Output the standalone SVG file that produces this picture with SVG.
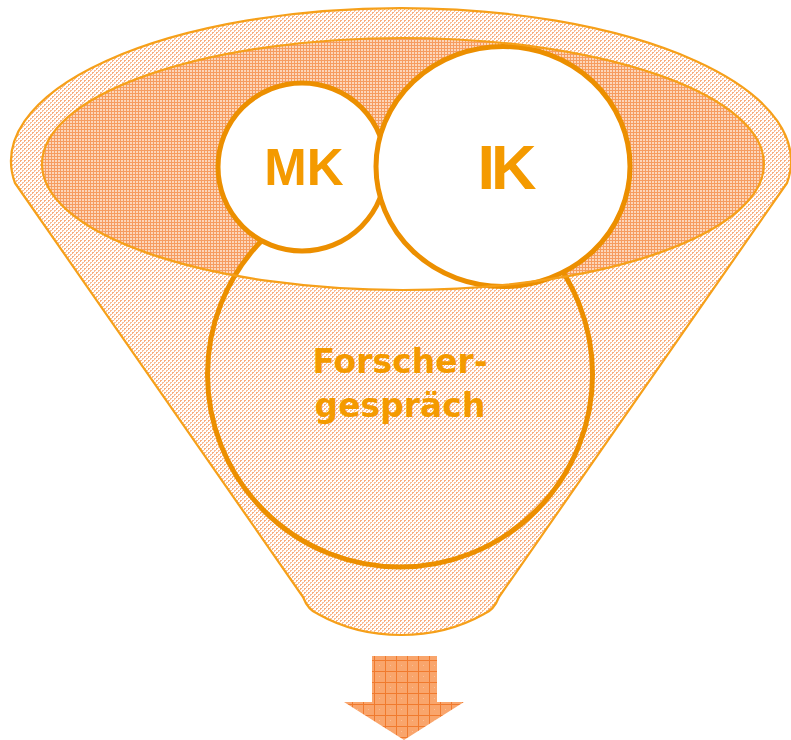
<svg xmlns="http://www.w3.org/2000/svg" width="791" height="740" viewBox="0 0 791 740">
<style>
.ring{stroke:#EC8F00;stroke-width:5;}
.edge{fill:none;stroke:#F6A01A;stroke-width:2.2;}
.lbl{fill:#F49A00;font-weight:bold;text-anchor:middle;}
</style>
<defs>
<pattern id="lt" width="4" height="4" patternUnits="userSpaceOnUse">
<rect width="4" height="4" fill="#fff"/>
<rect x="0" y="0" width="2" height="1" fill="#F8AE80"/>
<rect x="0" y="1" width="1" height="1" fill="#F8AE80"/>
<rect x="2" y="2" width="2" height="1" fill="#F9BE98"/>
<rect x="2" y="3" width="1" height="1" fill="#F9BE98"/>
</pattern>
<pattern id="dn" width="3" height="3" patternUnits="userSpaceOnUse">
<rect width="3" height="3" fill="#FCD6BA"/>
<rect x="0" y="0" width="1" height="3" fill="#F69C60"/>
<rect x="0" y="0" width="3" height="1" fill="#F69C60"/>
</pattern>
<pattern id="ar" width="11" height="11" patternUnits="userSpaceOnUse">
<rect width="11" height="11" fill="#F9A56C"/>
<rect x="0" y="0" width="1" height="11" fill="#F07A2E"/>
<rect x="0" y="0" width="11" height="1" fill="#F07A2E"/>
<rect x="5" y="5" width="1" height="1" fill="#FBBE94"/>
</pattern>
<clipPath id="fclip"><circle cx="400" cy="374.5" r="192.5"/></clipPath>
</defs>

<g id="funnel">
<path d="M15,183 A390,153 0 1 1 787,183 L499,597 Q494,610 484,614 C452,632 422,635 401,635 C380,635 350,632 318,614 Q308,610 303,597 Z" fill="url(#lt)" stroke="#F6A01A" stroke-width="2.2" stroke-linejoin="round"/>
<ellipse cx="403" cy="164" rx="361" ry="126" fill="url(#dn)"/>
</g>

<g id="forschergespraech">
<circle cx="400" cy="374.5" r="192.5" fill="url(#lt)"/>
<ellipse cx="403" cy="164" rx="361" ry="126" fill="#fff" clip-path="url(#fclip)"/>
<circle cx="400" cy="374.5" r="192.5" fill="none" class="ring"/>
<text class="lbl" x="400" y="373" font-family="'DejaVu Sans', sans-serif" font-size="33">Forscher-</text>
<text class="lbl" x="400" y="417" font-family="'DejaVu Sans', sans-serif" font-size="33">gespräch</text>
</g>

<g id="mk">
<circle cx="302" cy="167" r="84" fill="#fff" class="ring"/>
<text class="lbl" x="304" y="185" font-family="'Liberation Sans', Arial, sans-serif" font-size="51">MK</text>
</g>

<g id="ik">
<ellipse cx="503" cy="166.5" rx="127" ry="120" fill="#fff" class="ring"/>
<text class="lbl" x="505" y="189" font-family="'Liberation Sans', Arial, sans-serif" font-size="63" letter-spacing="-4">IK</text>
</g>

<g id="funnel-rim">
<ellipse cx="403" cy="164" rx="361" ry="126" class="edge"/>
</g>

<g id="arrow">
<path d="M372,656 L437,656 L437,702 L464,702 L404,740 L344,702 L372,702 Z" fill="url(#ar)"/>
</g>
</svg>
